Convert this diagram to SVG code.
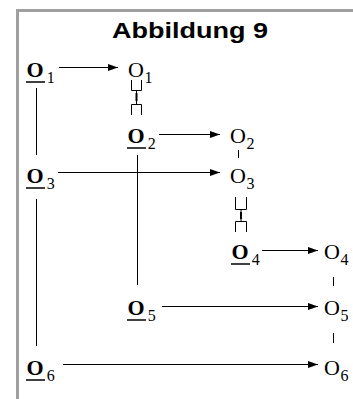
<svg xmlns="http://www.w3.org/2000/svg" width="353" height="399" viewBox="0 0 353 399">
<defs>
<style>
.t{font-family:"Liberation Serif","Times New Roman",serif;font-size:22px;fill:#000}
.b{font-weight:bold}
.s{font-size:16px;font-weight:normal}
.ln{stroke:#000;stroke-width:1;fill:none}
.ul{stroke:#000;stroke-width:1.5}
.ar{stroke:#000;stroke-width:1;marker-end:url(#ah)}
.title{font-family:"Liberation Sans",Arial,sans-serif;font-weight:bold;font-size:22px;fill:#000}
</style>
<marker id="ah" markerWidth="10" markerHeight="8" refX="10" refY="4" orient="auto" markerUnits="userSpaceOnUse">
<path d="M0,0.5 L10,4 L0,7.5 Z" fill="#000"/>
</marker>
</defs>
<rect x="17.5" y="10.5" width="400" height="400" fill="#fff" stroke="#a0a0a0" stroke-width="3"/>
<text class="title" x="112" y="38" textLength="156" lengthAdjust="spacingAndGlyphs">Abbildung 9</text>

<g id="connectors">
<line class="ar" x1="59" y1="67.5" x2="118" y2="67.5"/>
<line class="ar" x1="159" y1="134.5" x2="220" y2="134.5"/>
<line class="ar" x1="58" y1="172.5" x2="220" y2="172.5"/>
<line class="ar" x1="262" y1="250.5" x2="318" y2="250.5"/>
<line class="ar" x1="162" y1="306.5" x2="318" y2="306.5"/>
<line class="ar" x1="63" y1="364.5" x2="318" y2="364.5"/>
<line class="ln" x1="36.5" y1="88" x2="36.5" y2="155"/>
<line class="ln" x1="36.5" y1="199" x2="36.5" y2="346"/>
<line class="ln" x1="137.5" y1="155" x2="137.5" y2="285"/>
<line class="ln" x1="238.5" y1="150" x2="238.5" y2="158"/>
<line class="ln" x1="333.5" y1="277" x2="333.5" y2="286"/>
<line class="ln" x1="333.5" y1="333" x2="333.5" y2="343"/>
<path class="ln" d="M131.5,80 V90.5 H141.5 V80 M136.5,90.5 V104.5 M131.5,115 V104.5 H141.5 V115"/>
<line x1="136.5" y1="93" x2="136.5" y2="101" stroke="#000" stroke-width="2"/>
<path class="ln" d="M235.5,197 V209.5 H246.5 V197 M241,209.5 V221.5 M235.5,232 V221.5 H246.5 V232"/>
<line x1="241" y1="212" x2="241" y2="219" stroke="#000" stroke-width="2"/>
</g>

<g id="n1b"><text class="t" x="26.5" y="77"><tspan class="b">O</tspan><tspan class="s" dx="3" dy="6">1</tspan></text><line class="ul" x1="26" y1="82" x2="45" y2="82"/></g>
<g id="n1"><text class="t" x="128" y="77">O<tspan class="s" dx="0.5" dy="6">1</tspan></text></g>
<g id="n2b"><text class="t" x="127.5" y="143"><tspan class="b">O</tspan><tspan class="s" dx="3" dy="6">2</tspan></text><line class="ul" x1="127" y1="148" x2="146" y2="148"/></g>
<g id="n2"><text class="t" x="230" y="143">O<tspan class="s" dx="0.5" dy="6">2</tspan></text></g>
<g id="n3b"><text class="t" x="26.5" y="183"><tspan class="b">O</tspan><tspan class="s" dx="3" dy="6">3</tspan></text><line class="ul" x1="26" y1="188" x2="45" y2="188"/></g>
<g id="n3"><text class="t" x="230" y="183">O<tspan class="s" dx="0.5" dy="6">3</tspan></text></g>
<g id="n4b"><text class="t" x="231.5" y="259"><tspan class="b">O</tspan><tspan class="s" dx="3" dy="6">4</tspan></text><line class="ul" x1="231" y1="264" x2="250" y2="264"/></g>
<g id="n4"><text class="t" x="324" y="259">O<tspan class="s" dx="0.5" dy="6">4</tspan></text></g>
<g id="n5b"><text class="t" x="127.5" y="315"><tspan class="b">O</tspan><tspan class="s" dx="3" dy="6">5</tspan></text><line class="ul" x1="127" y1="320" x2="146" y2="320"/></g>
<g id="n5"><text class="t" x="324" y="315">O<tspan class="s" dx="0.5" dy="6">5</tspan></text></g>
<g id="n6b"><text class="t" x="26.5" y="375"><tspan class="b">O</tspan><tspan class="s" dx="3" dy="6">6</tspan></text><line class="ul" x1="26" y1="380" x2="45" y2="380"/></g>
<g id="n6"><text class="t" x="324" y="375">O<tspan class="s" dx="0.5" dy="6">6</tspan></text></g>
</svg>
